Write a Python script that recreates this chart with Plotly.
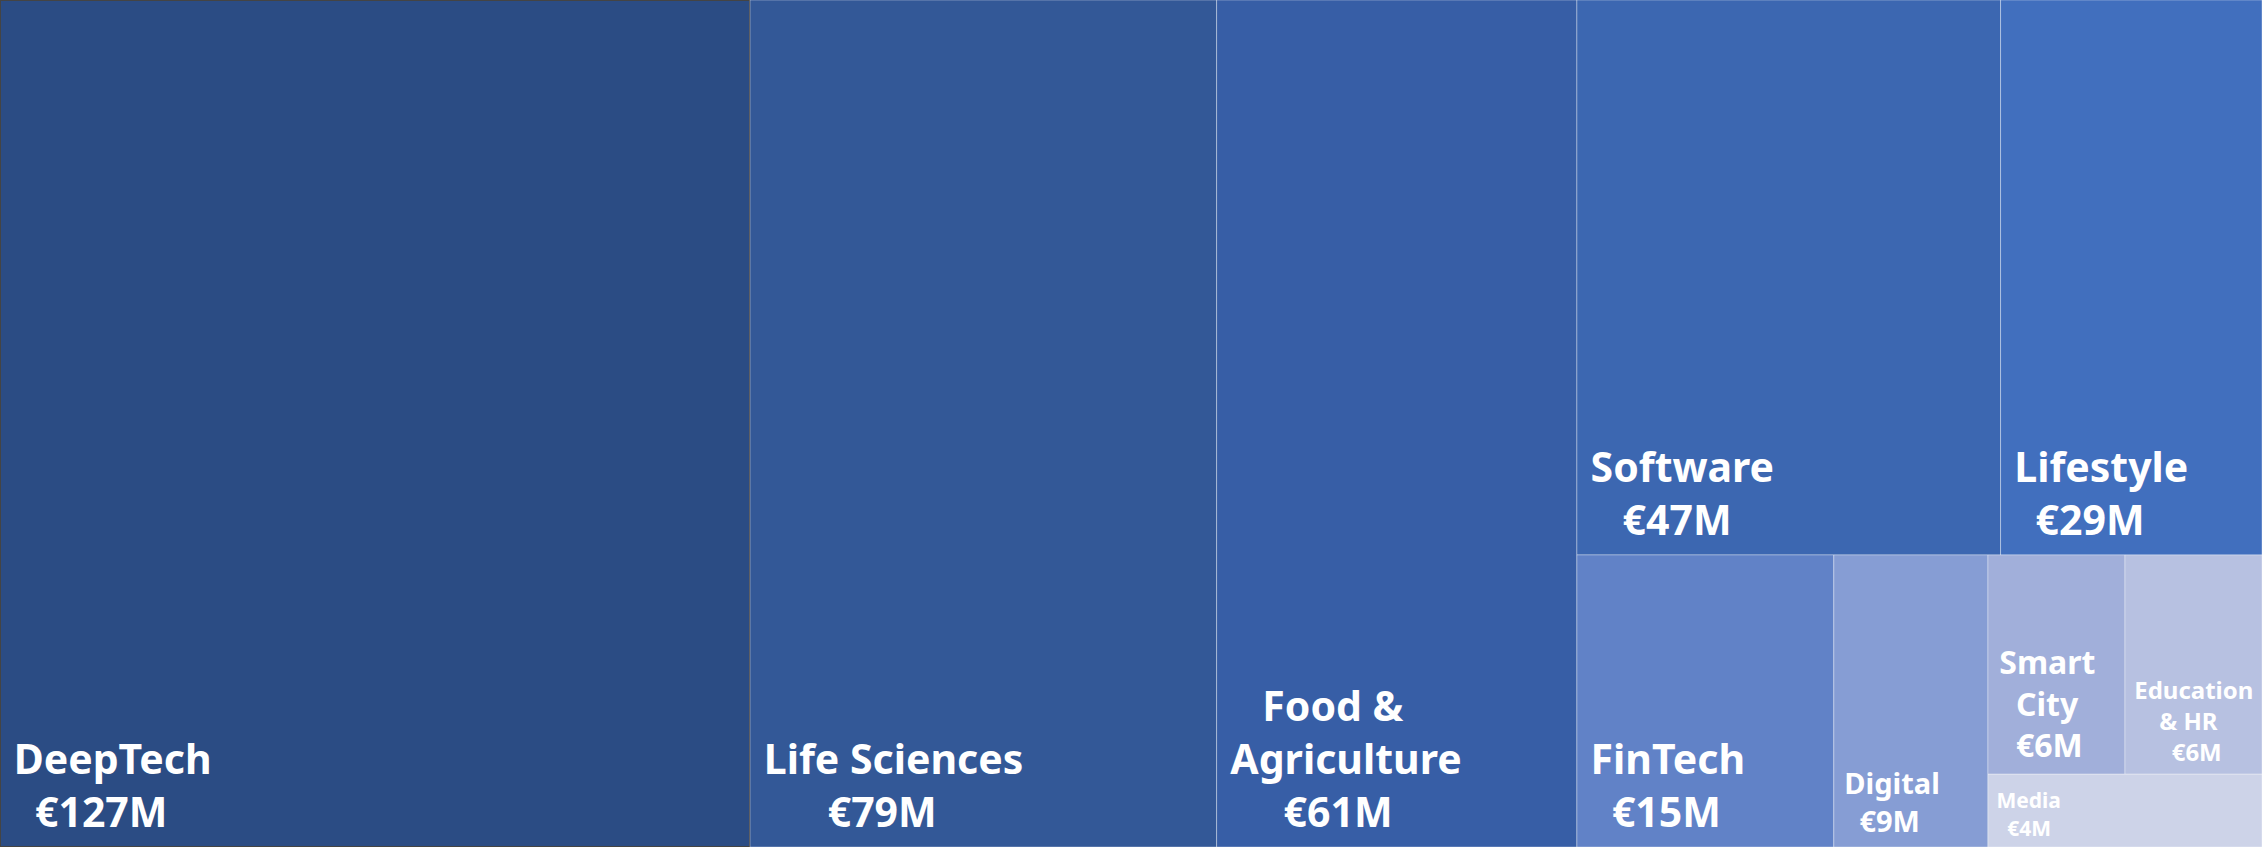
import plotly.graph_objects as go

# Funding by sector (EUR millions)
sectors = ["DeepTech", "Life Sciences", "Food & Agriculture", "Software", "Lifestyle",
           "FinTech", "Digital", "Smart City", "Education & HR", "Media"]
funding_m = [127, 79, 61, 47, 29, 15, 9, 6, 6, 4]
name_lines = [["DeepTech"], ["Life Sciences"], ["Food &", "Agriculture"], ["Software"],
              ["Lifestyle"], ["FinTech"], ["Digital"], ["Smart", "City"],
              ["Education", "& HR"], ["Media"]]

# Styling
tile_colors = ["#2B4C84", "#335897", "#375EA6", "#3C67B1", "#416FBE",
               "#6182C7", "#869DD4", "#A1AFDA", "#B7C1E1", "#CDD3E8"]
label_sizes = [41, 41, 41, 41, 41, 41, 29, 32, 24, 21]
# Non-breaking-space indents per label line (name lines, then value line),
# so each label block reads centred with a small left margin.
line_indents = [[1, 3], [1, 7], [4, 1, 6], [1, 4], [1, 3], [1, 3], [1, 3],
                [1, 3, 3], [1, 5, 7], [1, 3]]

# Layout groups: the smaller sectors are nested so the slice-dice tiling
# stacks them in the right-hand column.
group_parent = {"rest": "", "rest-top": "rest", "rest-bottom": "rest",
                "small": "rest-bottom", "small-pair": "small"}
sector_parent = {
    "DeepTech": "", "Life Sciences": "", "Food & Agriculture": "",
    "Software": "rest-top", "Lifestyle": "rest-top",
    "FinTech": "rest-bottom", "Digital": "rest-bottom",
    "Smart City": "small-pair", "Education & HR": "small-pair", "Media": "small",
}

# Node order controls the tile order (sort is off)
order = ["DeepTech", "Life Sciences", "Food & Agriculture", "rest",
         "rest-top", "Software", "Lifestyle",
         "rest-bottom", "FinTech", "Digital",
         "small", "small-pair", "Smart City", "Education & HR", "Media"]

NBSP = "\u00a0"


def tile_text(i):
    lines = name_lines[i] + [f"€{funding_m[i]}M"]
    padded = [NBSP * n + s for n, s in zip(line_indents[i], lines)]
    # a small subscript spacer lifts the block slightly off the bottom edge
    return "<br>".join(padded) + f"<sub>{NBSP}</sub>"


ids, parents, values, texts, colors, sizes, widths = [], [], [], [], [], [], []
for node in order:
    ids.append(node)
    if node in group_parent:
        parents.append(group_parent[node])
        values.append(0)
        texts.append("")
        colors.append("rgba(0,0,0,0)")
        sizes.append(12)
        widths.append(0)
    else:
        i = sectors.index(node)
        parents.append(sector_parent[node])
        values.append(funding_m[i])
        texts.append(tile_text(i))
        colors.append(tile_colors[i])
        sizes.append(label_sizes[i])
        widths.append(1)

fig = go.Figure(go.Treemap(
    ids=ids,
    labels=ids,
    parents=parents,
    values=values,
    branchvalues="remainder",
    sort=False,
    text=texts,
    texttemplate="%{text}",
    textposition="bottom left",
    textfont=dict(family="Noto Sans", color="white", size=sizes, weight="bold"),
    marker=dict(colors=colors,
                line=dict(color="rgba(255,255,255,0.35)", width=widths),
                pad=dict(t=0, l=0, r=0, b=0)),
    tiling=dict(packing="slice-dice", pad=0),
    pathbar=dict(visible=False),
    hoverinfo="skip",
))

fig.update_layout(
    width=2262, height=847,
    margin=dict(l=0, r=0, t=0, b=0),
    paper_bgcolor="white",
)

fig.write_html("out.html")
